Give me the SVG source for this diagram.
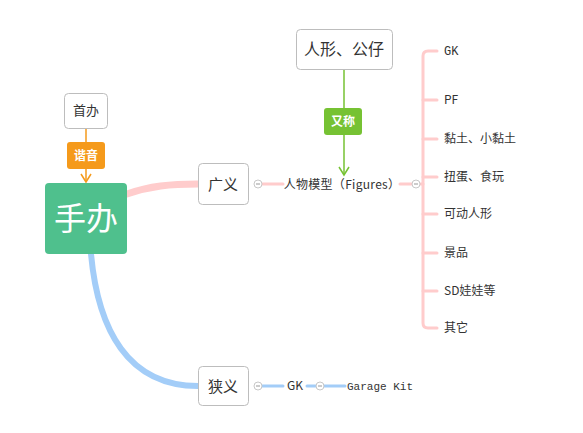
<svg xmlns="http://www.w3.org/2000/svg" width="583" height="433" viewBox="0 0 583 433">
<style>
.box{fill:#fff;stroke:#bdbdbd;stroke-width:1}
.t{font-family:"Noto Sans CJK SC","Liberation Sans",sans-serif;fill:#333}
.m{font-family:"Liberation Mono","Noto Sans CJK SC",monospace;fill:#333}
.pink{stroke:#ffcccc;fill:none;stroke-linecap:round}
.blue{stroke:#a3cdf8;fill:none;stroke-linecap:round}
.col{fill:#fff;stroke:#c8c8c8;stroke-width:1}
.colm{stroke:#999;stroke-width:1}
</style>
<defs>
<marker id="ao" markerWidth="12" markerHeight="12" refX="10" refY="6" orient="auto" markerUnits="userSpaceOnUse" viewBox="0 0 12 12">
<path d="M2,1 L10,6 L2,11" fill="none" stroke="#f59a1b" stroke-width="1.5"/>
</marker>
<marker id="ag" markerWidth="12" markerHeight="12" refX="10" refY="6" orient="auto" markerUnits="userSpaceOnUse" viewBox="0 0 12 12">
<path d="M2,1 L10,6 L2,11" fill="none" stroke="#76c233" stroke-width="1.5"/>
</marker>
</defs>
<rect width="583" height="433" fill="#fff"/>
<g id="connectors">
<path class="pink" d="M127,194 C150,186 170,184 198,184" stroke-width="7"/>
<path class="blue" d="M91,254 C98,330 128,386 198,386" stroke-width="6"/>
<path class="pink" d="M262,184 H283" stroke-width="3"/>
<path class="pink" d="M400,184 H412" stroke-width="3"/>
<path class="pink" d="M420,184 H423" stroke-width="3"/>
<path class="pink" d="M437,51 H428 Q423,51 423,56 V323 Q423,328 428,328 H437" stroke-width="3"/>
<path class="pink" d="M423,100 H437 M423,139 H437 M423,177 H437 M423,214 H437 M423,253 H437 M423,291 H437" stroke-width="3"/>
<path class="blue" d="M262,386 H283" stroke-width="3"/>
<path class="blue" d="M307,386 H316" stroke-width="3"/>
<path class="blue" d="M324,386 H345" stroke-width="3"/>
<path d="M86,128 V182" stroke="#f59a1b" stroke-width="1.5" marker-end="url(#ao)"/>
<path d="M344,69 V175" stroke="#76c233" stroke-width="1.5" marker-end="url(#ag)"/>
<g>
<circle class="col" cx="258" cy="184" r="4"/><path class="colm" d="M256,184 H260"/>
<circle class="col" cx="416" cy="184" r="4"/><path class="colm" d="M414,184 H418"/>
<circle class="col" cx="258" cy="386" r="4"/><path class="colm" d="M256,386 H260"/>
<circle class="col" cx="320" cy="386" r="4"/><path class="colm" d="M318,386 H322"/>
</g>
</g>
<g id="label-xieyin">
<rect x="67" y="142" width="38" height="27" rx="3" fill="#f59a1b"/>
<text x="86" y="160" text-anchor="middle" font-size="12" font-weight="bold" fill="#fff" font-family="Noto Sans CJK SC,sans-serif">谐音</text>
</g>
<g id="label-youcheng">
<rect x="324" y="108" width="38" height="27" rx="3" fill="#76c233"/>
<text x="343" y="126" text-anchor="middle" font-size="12" font-weight="bold" fill="#fff" font-family="Noto Sans CJK SC,sans-serif">又称</text>
</g>
<g id="root">
<rect x="45" y="183" width="82" height="71" rx="4" fill="#4fc08d"/>
<text x="86" y="230" text-anchor="middle" font-size="32" fill="#fff" font-family="Noto Sans CJK SC,sans-serif">手办</text>
</g>
<g id="shouban">
<rect class="box" x="64.5" y="93.5" width="43" height="35" rx="4"/>
<text class="t" x="86" y="115" text-anchor="middle" font-size="13">首办</text>
</g>
<g id="guangyi">
<rect class="box" x="198.5" y="163.5" width="50" height="41" rx="4"/>
<text class="t" x="223" y="190" text-anchor="middle" font-size="15">广义</text>
</g>
<g id="xiayi">
<rect class="box" x="198.5" y="366.5" width="50" height="39" rx="4"/>
<text class="t" x="223" y="392" text-anchor="middle" font-size="15">狭义</text>
</g>
<g id="renxing">
<rect class="box" x="296.5" y="29.5" width="96" height="40" rx="4"/>
<text class="t" x="344" y="55" text-anchor="middle" font-size="16">人形、公仔</text>
</g>
<g id="figures">
<text class="t" x="342" y="189" text-anchor="middle" font-size="12" letter-spacing="0.3">人物模型（Figures）</text>
</g>
<g id="items">
<text class="m" x="444" y="55" font-size="12">GK</text>
<text class="t" x="444" y="104" font-size="12">PF</text>
<text class="t" x="444" y="143" font-size="12">黏土、小黏土</text>
<text class="t" x="444" y="181" font-size="12">扭蛋、食玩</text>
<text class="t" x="444" y="218" font-size="12">可动人形</text>
<text class="t" x="444" y="257" font-size="12">景品</text>
<text class="t" x="444" y="295" font-size="12">SD娃娃等</text>
<text class="t" x="444" y="332" font-size="12">其它</text>
</g>
<g id="gk">
<text class="t" x="287" y="390" font-size="12">GK</text>
</g>
<g id="garagekit">
<text class="m" x="347" y="390" font-size="11">Garage Kit</text>
</g>
</svg>
